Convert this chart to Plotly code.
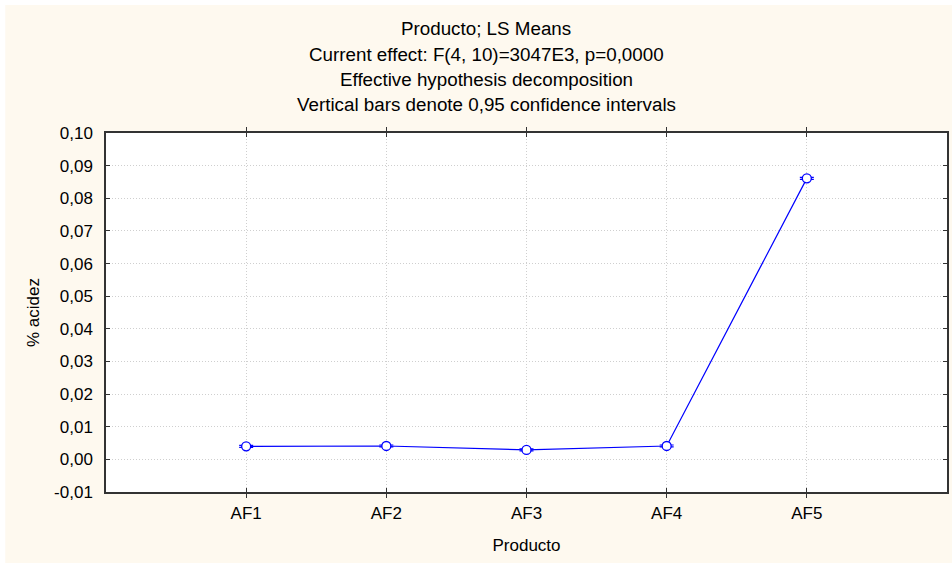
import plotly.graph_objects as go

categories = ["AF1", "AF2", "AF3", "AF4", "AF5"]
means = [0.0040, 0.0041, 0.0029, 0.0041, 0.0861]
ci_half = [0.0003, 0.0003, 0.0003, 0.0003, 0.0003]
ytick_vals = [-0.01, 0.00, 0.01, 0.02, 0.03, 0.04, 0.05, 0.06, 0.07, 0.08, 0.09, 0.10]
ytick_text = ["-0,01", "0,00", "0,01", "0,02", "0,03", "0,04", "0,05", "0,06", "0,07", "0,08", "0,09", "0,10"]
title_lines = [
    "Producto; LS Means",
    "Current effect: F(4, 10)=3047E3, p=0,0000",
    "Effective hypothesis decomposition",
    "Vertical bars denote 0,95 confidence intervals",
]

W, H = 952, 563
L, R, T, B = 106, 949, 133, 492

def px_x(x):
    return (x - L) / (R - L)

def px_y(y):
    return (B - y) / (B - T)

fig = go.Figure()
fig.add_trace(go.Scatter(
    x=list(range(len(categories))), y=means,
    mode="lines+markers",
    line=dict(color="#0000FF", width=1.2),
    marker=dict(symbol="circle", size=9, color="#FFFFFF", line=dict(width=1.3, color="#0000FF")),
    error_y=dict(type="data", array=ci_half, color="#0000FF", thickness=1.2, width=7),
    showlegend=False,
))

font = dict(family="Liberation Sans, Arial, sans-serif", size=17, color="#000000")
tfont = dict(family="Liberation Sans, Arial, sans-serif", size=18.8, color="#000000")

annotations = []
for i, t in enumerate(title_lines):
    annotations.append(dict(
        text=t, xref="paper", yref="paper", x=px_x(487), y=px_y(29 + i * 25),
        showarrow=False, xanchor="center", yanchor="middle", font=tfont,
    ))

shapes = [
    dict(type="rect", xref="paper", yref="paper", layer="below",
         x0=px_x(5), x1=px_x(W + 5), y0=px_y(H + 5), y1=px_y(5),
         fillcolor="#FEF9EF", line=dict(width=0)),
    dict(type="rect", xref="paper", yref="paper", layer="below",
         x0=0, x1=1, y0=0, y1=1, fillcolor="#FFFFFF", line=dict(width=0)),
]

grid = dict(showgrid=True, gridcolor="#CFCFCF", griddash="1px,2px", gridwidth=1)
axline = dict(showline=True, linecolor="#333333", linewidth=1.5, mirror="allticks",
              ticks="inside", ticklen=4, tickcolor="#333333", zeroline=False)

fig.update_layout(
    width=W, height=H,
    margin=dict(l=L, r=W - R, t=T, b=H - B, pad=0),
    paper_bgcolor="#FFFFFF",
    plot_bgcolor="rgba(0,0,0,0)",
    font=font,
    annotations=annotations,
    shapes=shapes,
    xaxis=dict(
        range=[-1, 5],
        tickmode="array", tickvals=list(range(len(categories))), ticktext=categories,
        **grid, **axline,
        ticklabelstandoff=5,
        title=dict(text="Producto", font=font, standoff=17),
        tickfont=font,
    ),
    yaxis=dict(
        range=[-0.01, 0.10],
        tickmode="array", tickvals=ytick_vals, ticktext=ytick_text,
        **grid,
        showline=True, linecolor="#333333", linewidth=1.5, mirror=True,
        ticks="outside", ticklen=8, tickcolor="rgba(0,0,0,0)", zeroline=False,
        title=dict(text="% acidez", font=font, standoff=10),
        tickfont=font,
    ),
    yaxis2=dict(
        range=[-0.01, 0.10], overlaying="y", side="left", anchor="x",
        tickmode="array", tickvals=ytick_vals, showticklabels=False,
        showgrid=False, showline=False, mirror="allticks",
        ticks="inside", ticklen=4, tickcolor="#333333", zeroline=False,
    ),
)
fig.add_trace(go.Scatter(x=[None], y=[None], yaxis="y2", showlegend=False, hoverinfo="skip"))

fig.write_html("out.html")
